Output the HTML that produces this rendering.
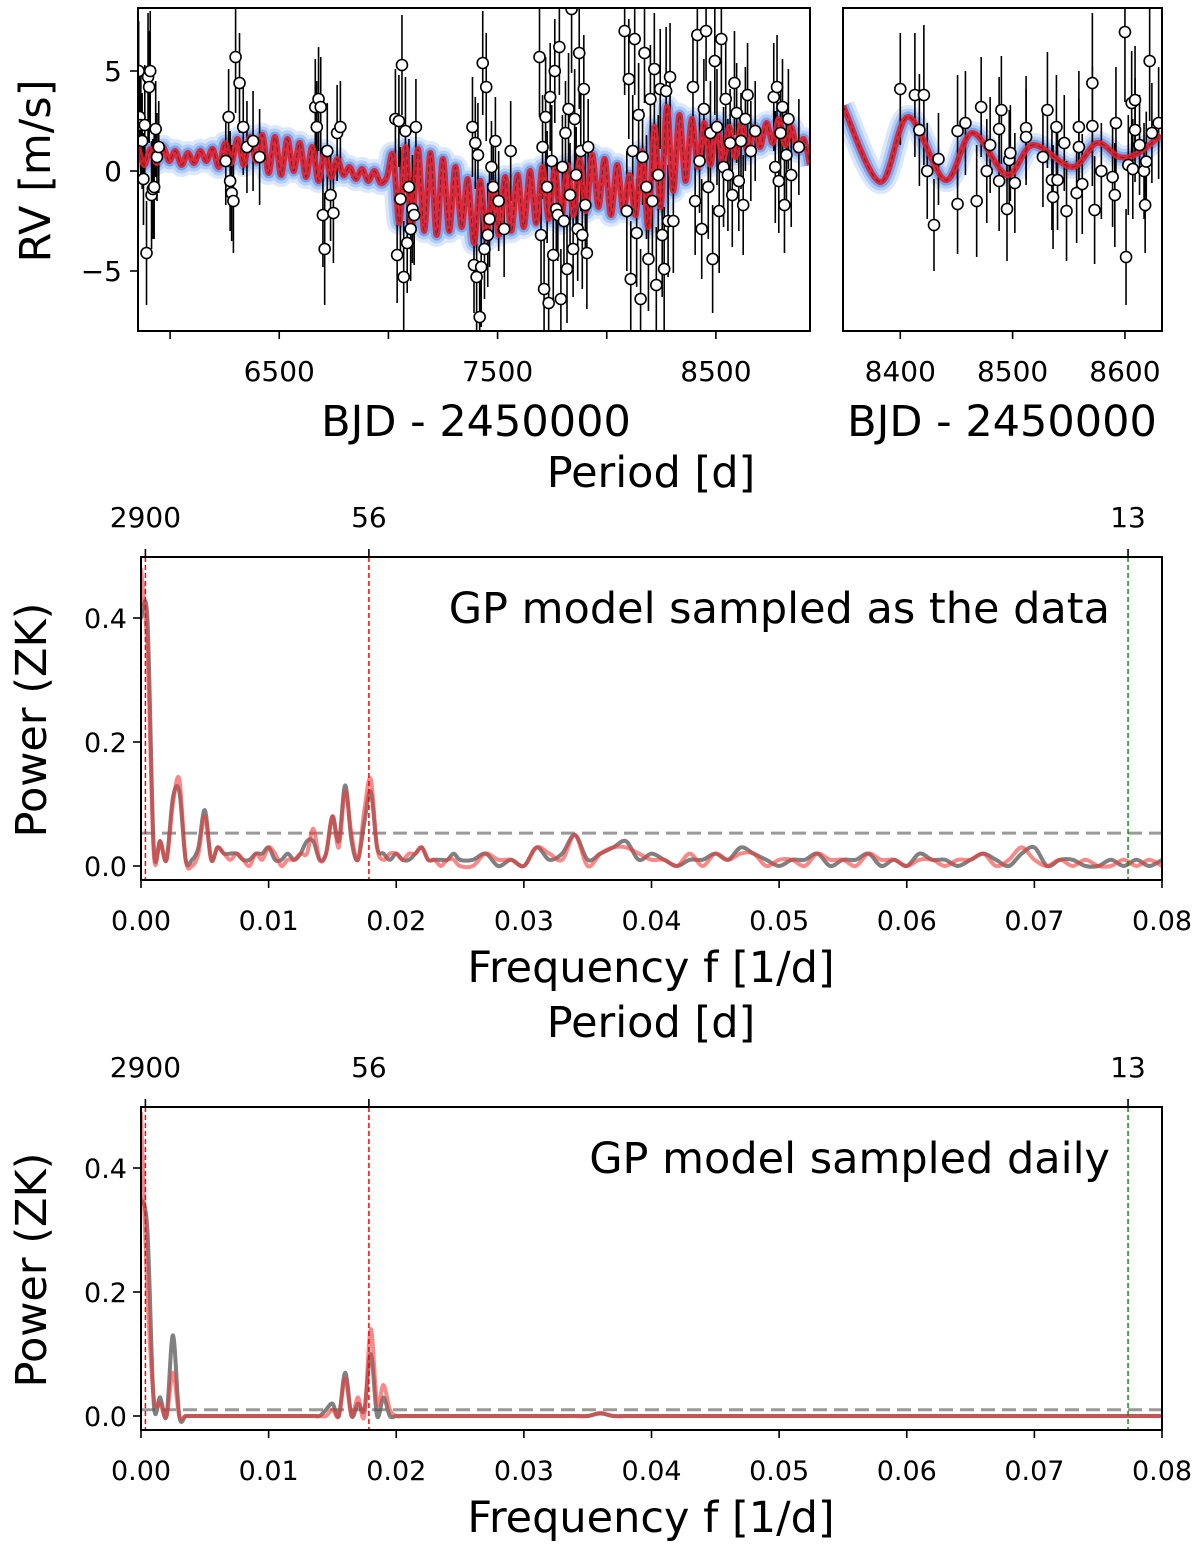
<!DOCTYPE html>
<html><head><meta charset="utf-8"><style>
html,body{margin:0;padding:0;background:#fff;}
svg{display:block;font-family:"DejaVu Sans","Liberation Sans",sans-serif;}
</style></head><body>
<svg id="fig" width="1200" height="1549" viewBox="0 0 1200 1549" xmlns="http://www.w3.org/2000/svg">
<defs>
<clipPath id="c1"><rect x="139" y="9" width="671" height="321"/></clipPath>
<clipPath id="c2"><rect x="844" y="9" width="317" height="321"/></clipPath>
<clipPath id="c3"><rect x="142" y="558" width="1019" height="321"/></clipPath>
<clipPath id="c4"><rect x="142" y="1108" width="1019" height="321"/></clipPath>
</defs>
<g id="p1"></g>
<g id="p2"></g>
<g id="p3"></g>
<g id="p4"></g>
</svg>
<script>
// ---------- DATA ----------
const rvPoints = [
[5856,5.0,2.5],[5860,2.7,2.2],[5866,2.3,2.6],[5872,1.5,2.4],[5878,-0.4,2.3],[5884,2.3,3.0],[5892,-4.1,2.6],[5899,4.7,3.2],[5904,4.2,2.8],[5909,5.0,3.0],[5915,-1.2,2.7],[5921,-0.9,2.5],[5927,-0.8,2.6],[5934,2.1,2.4],[5940,0.7,2.2],[5948,1.2,2.3],
[6255,0.5,2.2],[6268,2.7,2.4],[6275,-0.5,2.5],[6282,-1.1,2.4],[6290,-1.5,2.6],[6300,5.7,2.8],[6318,4.4,2.5],[6335,2.2,2.4],[6352,1.2,2.3],[6380,1.5,2.5],[6410,0.7,2.4],
[6665,3.2,2.4],[6672,2.2,2.3],[6680,3.6,2.6],[6690,3.2,2.5],[6700,-2.2,2.6],[6708,-3.9,2.8],[6720,1.0,2.4],[6735,-1.2,2.3],[6748,-2.1,2.5],[6765,1.9,2.4],[6780,2.2,2.3],
[7032,2.6,2.5],[7040,-4.2,2.4],[7048,2.5,2.3],[7055,-1.4,2.6],[7062,5.3,2.5],[7070,-5.3,2.8],[7078,2.0,2.7],[7086,-3.6,2.5],[7094,-0.8,2.4],[7102,-2.9,2.6],[7110,-1.9,2.7],[7118,-2.2,2.5],[7126,2.2,2.4],
[7385,2.2,2.5],[7392,-4.7,2.4],[7398,1.4,2.3],[7404,-5.3,2.7],[7410,0.8,2.6],[7418,-7.3,2.8],[7425,-4.8,3.0],[7432,5.4,2.6],[7440,-3.9,2.5],[7448,4.2,2.7],[7455,-3.2,2.6],[7463,-2.4,2.4],[7472,0.2,2.3],[7480,-0.8,2.4],[7490,1.5,2.2],[7505,-1.5,2.5],[7530,-2.9,2.4],[7560,1.0,2.5],
[7692,5.7,3.0],[7699,-3.2,2.9],[7706,1.2,2.6],[7713,-5.9,2.8],[7720,2.7,3.0],[7727,-0.8,2.8],[7734,-6.6,2.6],[7741,3.7,2.7],[7748,0.5,2.8],[7755,-4.2,2.5],[7762,5.0,2.6],[7769,-1.9,2.4],[7776,-2.2,2.3],[7783,6.2,2.4],[7790,-6.4,2.5],[7797,0.2,2.6],[7804,-2.5,2.5],[7811,1.9,2.6],[7818,-4.9,2.7],[7825,3.1,2.8],[7832,-1.2,2.6],[7839,8.1,3.2],[7846,-3.9,2.4],[7853,2.6,2.5],[7860,-0.2,2.4],[7867,-2.9,2.6],[7874,5.9,2.8],[7881,1.0,3.0],[7888,-3.2,2.7],[7895,4.1,2.7],[7902,-1.7,2.6],[7909,-4.1,2.8],[7915,1.2,2.4],
[8082,7.0,3.2],[8092,-2.0,3.0],[8101,4.6,3.0],[8110,-5.4,2.9],[8119,1.0,2.8],[8128,6.6,2.8],[8137,-3.1,2.7],[8146,2.8,2.6],[8155,-6.4,2.5],[8164,0.7,2.4],[8173,5.9,2.5],[8182,-0.8,2.6],[8191,-4.4,2.6],[8200,3.6,2.7],[8209,-1.5,2.8],[8218,5.1,2.8],[8227,-5.7,2.9],[8236,-0.2,3.0],[8245,4.1,3.0],[8254,-3.2,3.1],[8263,-4.9,3.1],[8272,4.0,3.2],[8281,-2.5,2.8],[8290,4.7,2.7],[8305,-2.5,2.6],
[8395,4.2,2.8],[8405,-1.5,2.7],[8415,6.8,2.6],[8425,0.5,2.6],[8435,-2.9,2.5],[8445,3.1,2.5],[8455,7.0,2.5],[8465,-0.8,2.6],[8475,1.9,2.6],[8485,-4.4,2.7],[8495,5.5,2.7],[8505,2.2,2.9],[8515,-2.0,3.1],[8525,6.6,3.0],[8535,0.2,3.0],[8545,3.6,2.9],[8555,-0.2,2.8],[8565,1.4,2.7],[8575,-1.2,2.6],[8585,4.4,2.6],[8595,2.9,2.5],[8605,-0.5,2.5],[8615,1.5,2.4],[8625,-1.7,2.5],[8635,2.6,2.6],[8645,3.8,2.6],[8660,1.0,2.5],[8680,2.0,2.5],
[8765,3.7,2.7],[8772,0.2,2.8],[8780,4.2,2.6],[8788,-0.5,2.6],[8796,1.9,2.5],[8805,3.2,2.4],[8814,-1.7,2.4],[8823,0.8,2.5],[8832,2.6,2.5],[8845,-0.2,2.6],[8880,1.2,2.4]
];
const modelStart = 5853, modelStep = 28.5;
const modelValues = [1.2,0.3,1.1,0.4,1.2,0.5,1.0,0.3,0.9,0.4,1.0,0.5,1.1,0.2,1.4,0.4,1.6,0.3,1.7,0.5,
1.8,-0.1,1.7,-0.2,1.6,0.0,1.4,-0.3,1.2,-0.5,1.0,-0.3,0.6,-0.2,
0.2,-0.4,0.1,-0.5,0.0,-0.6,-0.3,
0.8,-2.6,1.2,-2.8,1.1,-3.0,0.9,-3.2,0.6,-3.0,0.2,-2.8,
-0.4,-3.6,-0.5,-3.4,-0.6,-3.2,-0.3,-3.0,-0.2,-2.8,0.0,-2.6,0.2,
-2.4,0.1,-2.6,0.3,-2.2,0.6,-2.0,0.8,-1.8,0.6,-2.2,0.3,-2.0,-0.2,
-2.2,1.0,-2.8,2.2,-1.8,3.2,-1.0,
2.8,-0.5,2.6,0.2,2.4,0.3,2.4,0.4,2.2,0.7,2.4,0.9,2.2,1.2,2.4,1.4,2.6,1.3,2.2,1.0,1.6,0.3];
const zoomPoints = [[8400,4.1,2.8],[8413,3.8,3.1],[8421,3.8,3.5],[8417,2.05,2.8],[8424,0.0,2.4],[8434,0.6,2.3],[8430,-2.7,2.3],[8451,2.0,2.8],[8451,-1.65,2.5],[8458,2.4,2.6],[8468,-1.5,2.8],[8472,3.2,2.5],[8477,0.0,2.6],[8480,1.3,2.4],[8488,2.1,2.6],[8488,-0.5,2.5],[8490,3.05,2.7],[8495,-1.9,2.6],[8497,0.55,2.5],[8498,0.9,2.4],[8502,-0.6,2.5],[8512,2.15,2.6],[8512,1.7,2.4],[8527,0.7,2.5],[8531,3.05,2.9],[8535,-0.45,2.5],[8536,-1.3,2.6],[8539,2.2,2.6],[8540,-0.45,2.5],[8546,1.4,2.4],[8548,-2.0,2.5],[8557,-1.1,2.5],[8559,2.2,2.8],[8559,1.2,2.4],[8562,-0.65,2.5],[8571,4.4,3.5],[8571,2.25,3.0],[8573,-1.95,2.7],[8579,0.0,2.4],[8589,-0.3,2.5],[8591,-1.2,2.6],[8592,2.4,2.8],[8600,6.95,3.5],[8601,-4.3,2.4],[8603,0.3,2.5],[8606,3.4,2.6],[8607,0.1,2.5],[8609,3.55,2.7],[8609,2.05,2.6],[8613,1.3,2.5],[8617,0.0,2.4],[8618,-1.7,2.4],[8619,0.47,2.5],[8622,5.5,3.0],[8624,1.9,2.5],[8630,2.4,2.8]];
const zoomModelT = [8349,8382,8407,8440,8464,8495,8518,8553,8575,8595,8612,8632];
const zoomModelV = [3.25,-0.55,2.7,-0.45,1.9,-0.2,1.3,0.2,1.4,0.7,0.9,1.8];
const pgFine = 0.0005, pgCoarse = 0.001;
const asDataGrayLow = [0.40,0.40,0.03,0.04,0.01,0.11,0.12,0.01,0.01,0.03,0.09,0.01,0.03,0.02,0.02,0.02,0.01,0.01,0.02,0.02,0.03,0.01,0.01,0.02,0.01,0.02,0.04,0.04,0.01,0.02,0.08,0.04,0.13,0.04,0.01,0.07,0.12,0.03,0.02,0.01,0.02,0.01,0.01,0.02,0.03,0.01,0.01,0.01,0.01,0.02,0.01];
const asDataRedLow = [0.48,0.35,0.02,0.04,0.01,0.10,0.14,0.01,0.00,0.02,0.08,0.01,0.03,0.02,0.01,0.02,0.01,0.00,0.02,0.01,0.03,0.02,0.00,0.01,0.01,0.02,0.02,0.06,0.01,0.02,0.08,0.03,0.12,0.05,0.01,0.09,0.14,0.03,0.01,0.02,0.02,0.01,0.02,0.02,0.03,0.01,0.01,0.00,0.01,0.01,0.00];
const asDataGrayHigh = [0.01,0.02,0.00,0.01,0.00,0.03,0.01,0.02,0.05,0.01,0.02,0.03,0.04,0.01,0.02,0.01,0.00,0.01,0.01,0.02,0.01,0.03,0.02,0.01,0.00,0.01,0.01,0.02,0.00,0.01,0.01,0.02,0.00,0.01,0.00,0.02,0.01,0.01,0.00,0.01,0.02,0.01,0.00,0.02,0.03,0.00,0.01,0.01,0.00,0.00,0.01,0.00,0.01,0.00,0.01];
const asDataRedHigh = [0.00,0.02,0.01,0.01,0.00,0.03,0.02,0.01,0.05,0.00,0.02,0.03,0.03,0.02,0.01,0.01,0.00,0.02,0.00,0.02,0.01,0.02,0.02,0.00,0.01,0.01,0.00,0.02,0.01,0.01,0.00,0.02,0.01,0.01,0.00,0.01,0.01,0.00,0.01,0.01,0.02,0.00,0.01,0.03,0.01,0.00,0.01,0.00,0.01,0.00,0.00,0.01,0.00,0.01,0.00];
const dailyGrayLow = [0.35,0.30,0.02,0.03,0.00,0.13,0.00,0.00,0.00,0.00,0.00,0.00,0.00,0.00,0.00,0.00,0.00,0.00,0.00,0.00,0.00,0.00,0.00,0.00,0.00,0.00,0.00,0.00,0.00,0.01,0.02,0.00,0.07,0.00,0.02,0.01,0.10,0.00,0.03,0.00,0.00,0.00,0.00,0.00,0.00,0.00,0.00,0.00,0.00,0.00,0.00];
const dailyRedLow = [0.49,0.20,0.03,0.02,0.00,0.07,0.00,0.00,0.00,0.00,0.00,0.00,0.00,0.00,0.00,0.00,0.00,0.00,0.00,0.00,0.00,0.00,0.00,0.00,0.00,0.00,0.00,0.00,0.00,0.00,0.01,0.00,0.06,0.00,0.03,0.00,0.14,0.02,0.05,0.01,0.00,0.00,0.00,0.00,0.00,0.00,0.00,0.00,0.00,0.00,0.00];
const dailyGrayHigh = [0,0,0,0,0,0,0,0,0,0,0.004,0,0,0,0,0,0,0,0,0,0,0,0,0,0,0,0,0,0,0,0,0,0,0,0,0,0,0,0,0,0,0,0,0,0,0,0,0,0,0,0,0,0,0,0];
const dailyRedHigh = [0,0,0,0,0,0,0,0,0,0,0.005,0,0,0,0,0,0,0,0,0,0,0,0,0,0,0,0,0,0,0,0,0,0,0,0,0,0,0,0,0,0,0,0,0,0,0,0,0,0,0,0,0,0,0,0];
const periodTicks = [2900, 56, 12.93];
const periodTickLabels = ["2900","56","13"];
const freqTicks = [0,0.01,0.02,0.03,0.04,0.05,0.06,0.07,0.08];
const freqTickLabels = ["0.00","0.01","0.02","0.03","0.04","0.05","0.06","0.07","0.08"];
const powerTicks = [0,0.2,0.4];
const powerTickLabels = ["0.0","0.2","0.4"];
const rvTicks = [-5,0,5];
const rvTickLabels = ["\u22125","0","5"];
const mainTimeTicks = [6000,6500,7000,7500,8000,8500];
const mainTimeLabels = ["","6500","","7500","","8500"];
const zoomTimeTicks = [8400,8500,8600];
const zoomTimeLabels = ["8400","8500","8600"];
const thrAsData = 0.053, thrDaily = 0.010;

// ---------- helpers ----------
const NS="http://www.w3.org/2000/svg";
function mk(parent, tag, attrs, text){const e=document.createElementNS(NS,tag);for(const k in attrs)e.setAttribute(k,attrs[k]);if(text!==undefined)e.textContent=text;parent.appendChild(e);return e;}
function lin(d0,d1,r0,r1){return v=>r0+(v-d0)*(r1-r0)/(d1-d0);}
function smooth(pts){let d=`M${pts[0][0]},${pts[0][1]}`;for(let i=0;i<pts.length-1;i++){const p0=pts[Math.max(0,i-1)],p1=pts[i],p2=pts[i+1],p3=pts[Math.min(pts.length-1,i+2)];const c1x=p1[0]+(p2[0]-p0[0])/6,c1y=p1[1]+(p2[1]-p0[1])/6,c2x=p2[0]-(p3[0]-p1[0])/6,c2y=p2[1]-(p3[1]-p1[1])/6;d+=` C${c1x},${c1y} ${c2x},${c2y} ${p2[0]},${p2[1]}`;}return d;}
const TICK=28, TITLE=43;

function rvPanel(g, box, tmin, tmax, points, modelPts, tTicks, tLabels, clip, showY){
  const X=lin(tmin,tmax,box.x0,box.x1), Y=lin(0,5,171,71);
  const cg=mk(g,'g',{'clip-path':`url(#${clip})`});
  
  
  const pp=modelPts.map(p=>[X(p[0]),Y(p[1])]);
  const d=smooth(pp);
  const bands=[[24,'#dbe7fb'],[17,'#b4cdf6'],[11,'#7aa6f0']];
  bands.forEach(b=>{const e=mk(cg,'path',{d:d,fill:'none',stroke:b[1],'stroke-width':b[0],'stroke-linejoin':'round'});
    
    });
  points.forEach(p=>{const x=X(p[0]);const e=mk(cg,'line',{x1:x,x2:x,y1:Y(p[1]-p[2]),y2:Y(p[1]+p[2]),stroke:'#000','stroke-width':1.6});
    
    });
  const red=mk(cg,'path',{d:d,fill:'none',stroke:'#e41f2d','stroke-width':6,'stroke-linejoin':'round','stroke-opacity':0.92});
  
  
  const dash=mk(cg,'path',{d:d,fill:'none',stroke:'#222','stroke-width':1,'stroke-dasharray':'5,3','stroke-opacity':0.6});
  
  
  points.forEach(p=>{const e=mk(cg,'circle',{cx:X(p[0]),cy:Y(p[1]),r:5.5,fill:'#fff',stroke:'#000','stroke-width':1.6});
    
    });
  const fr=mk(g,'rect',{x:box.x0,y:box.y0,width:box.x1-box.x0,height:box.y1-box.y0,fill:'none',stroke:'#000','stroke-width':2});
  
  
  tTicks.forEach((t,i)=>{const x=X(t);mk(g,'line',{x1:x,x2:x,y1:box.y1,y2:box.y1+8,stroke:'#000','stroke-width':1.6});
    if(tLabels[i]){const e=mk(g,'text',{x:x,y:box.y1+50,'font-size':TICK,'text-anchor':'middle'},tLabels[i]);
    
    }});
  if(showY){rvTicks.forEach((v,i)=>{const y=Y(v);mk(g,'line',{x1:box.x0-8,x2:box.x0,y1:y,y2:y,stroke:'#000','stroke-width':1.6});
    const e=mk(g,'text',{x:box.x0-16,y:y+10,'font-size':TICK,'text-anchor':'end'},rvTickLabels[i]);
    
    });}
}
const modelPts = modelValues.map((v,i)=>[modelStart+i*modelStep,v]);
rvPanel(document.getElementById('p1'),{x0:138,x1:810,y0:8,y1:331},5853,8931,rvPoints,modelPts,mainTimeTicks,mainTimeLabels,'c1',true);
rvPanel(document.getElementById('p2'),{x0:843,x1:1162,y0:8,y1:331},8349,8633,zoomPoints,zoomModelT.map((t,i)=>[t,zoomModelV[i]]),zoomTimeTicks,zoomTimeLabels,'c2',false);

function pgPanel(g, y0, grayL, grayH, redL, redH, thr, label, clip){
  const box={x0:141,x1:1162,y0:y0,y1:y0+323};
  const X=lin(0,0.08,box.x0,box.x1), Y=lin(0,0.4,y0+309,y0+61);
  function series(lo,hi){const pts=[];lo.forEach((v,i)=>pts.push([X(i*pgFine),Y(v)]));hi.forEach((v,i)=>pts.push([X(0.026+i*pgCoarse),Y(v)]));return pts;}
  const cg=mk(g,'g',{'clip-path':`url(#${clip})`});
  
  
  const th=mk(cg,'line',{x1:box.x0,x2:box.x1,y1:Y(thr),y2:Y(thr),stroke:'#999','stroke-width':3,'stroke-dasharray':'14,7'});
  
  
  const gp=mk(cg,'path',{d:smooth(series(grayL,grayH)),fill:'none',stroke:'#555','stroke-width':4,'stroke-opacity':0.75});
  
  
  const rp=mk(cg,'path',{d:smooth(series(redL,redH)),fill:'none',stroke:'#f23a3a','stroke-width':4,'stroke-opacity':0.6});
  
  
  periodTicks.forEach((p,i)=>{const x=X(1/p);const l=mk(cg,'line',{x1:x,x2:x,y1:box.y0,y2:box.y1,stroke:i<2?'#f00':'#1a8a1a','stroke-width':1.5,'stroke-dasharray':'5,3'});
    
    
    mk(g,'line',{x1:x,x2:x,y1:box.y0-8,y2:box.y0,stroke:'#000','stroke-width':1.6});
    const t=mk(g,'text',{x:x,y:box.y0-30,'font-size':TICK,'text-anchor':'middle'},periodTickLabels[i]);
    
    });
  const fr=mk(g,'rect',{x:box.x0,y:box.y0,width:box.x1-box.x0,height:box.y1-box.y0,fill:'none',stroke:'#000','stroke-width':2});
  
  
  freqTicks.forEach((f,i)=>{const x=X(f);mk(g,'line',{x1:x,x2:x,y1:box.y1,y2:box.y1+8,stroke:'#000','stroke-width':1.6});
    const t=mk(g,'text',{x:x,y:box.y1+50,'font-size':TICK-1,'text-anchor':'middle'},freqTickLabels[i]);
    
    });
  powerTicks.forEach((v,i)=>{const y=Y(v);mk(g,'line',{x1:box.x0-8,x2:box.x0,y1:y,y2:y,stroke:'#000','stroke-width':1.6});
    const t=mk(g,'text',{x:box.x0-14,y:y+10,'font-size':TICK-1,'text-anchor':'end'},powerTickLabels[i]);
    
    });
  const lb=mk(g,'text',{x:1110,y:y0+66,'font-size':TITLE,'text-anchor':'end'},label);
  
  
  const yl=mk(g,'text',{x:0,y:0,'font-size':TITLE,'text-anchor':'middle',transform:`translate(46,${y0+163}) rotate(-90)`},'Power (ZK)');
  
  
  const xl=mk(g,'text',{x:651,y:y0+425,'font-size':TITLE,'text-anchor':'middle'},'Frequency f [1/d]');
  
  
  const pl=mk(g,'text',{x:651,y:y0-70,'font-size':TITLE,'text-anchor':'middle'},'Period [d]');
  
  
}
pgPanel(document.getElementById('p3'),557,asDataGrayLow,asDataGrayHigh,asDataRedLow,asDataRedHigh,thrAsData,'GP model sampled as the data','c3');
pgPanel(document.getElementById('p4'),1107,dailyGrayLow,dailyGrayHigh,dailyRedLow,dailyRedHigh,thrDaily,'GP model sampled daily','c4');

const svg=document.getElementById('fig');
let t=mk(svg,'text',{x:476,y:436,'font-size':TITLE,'text-anchor':'middle'},'BJD - 2450000');


t=mk(svg,'text',{x:1002,y:436,'font-size':TITLE,'text-anchor':'middle'},'BJD - 2450000');


t=mk(svg,'text',{x:0,y:0,'font-size':TITLE,'text-anchor':'middle',transform:'translate(50,171) rotate(-90)'},'RV [m/s]');


</script>
</body></html>
